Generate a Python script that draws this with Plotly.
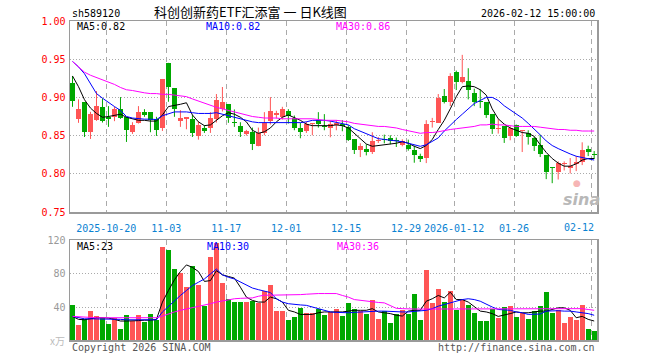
import plotly.graph_objects as go

# ---------------- data ----------------
day_idx = list(range(88))  # trading-day index, 2025-10-10 .. 2026-02-12

opens = [0.9193,0.8715,0.8939,0.8548,0.8702,0.8873,0.8737,0.8746,0.8846,0.8737,
         0.8548,0.8667,0.8807,0.8807,0.8719,0.8601,0.9452,0.9123,0.8693,0.8719,
         0.8715,0.8496,0.8605,0.8605,0.8719,0.8851,0.8912,0.8675,0.8627,0.8526,
         0.8544,0.8368,0.8535,0.8689,0.8772,0.8741,0.8820,0.8728,0.8601,0.8557,
         0.8649,0.8702,0.8627,0.8601,0.8645,0.8649,0.8614,0.8452,0.8311,0.8325,
         0.8281,0.8425,0.8447,0.8474,0.8443,0.8382,0.8382,0.8311,0.8232,0.8206,
         0.8675,0.8671,0.9018,0.8943,0.9338,0.9197,0.9215,0.9057,0.8947,0.8939,
         0.8781,0.8583,0.8623,0.8500,0.8645,0.8557,0.8539,0.8469,0.8373,0.8241,
         0.8088,0.8018,0.8127,0.8079,0.8123,0.8149,0.8320,0.8254]
highs = [0.9281,0.8974,0.8940,0.8811,0.9083,0.8987,0.8886,0.8877,0.9004,0.8737,
         0.8675,0.8886,0.8846,0.8807,0.8746,0.9241,0.9452,0.9123,0.8833,0.8737,
         0.8768,0.8684,0.8636,0.8807,0.9044,0.9136,0.8912,0.8842,0.8675,0.8575,
         0.8605,0.8605,0.8807,0.9004,0.8825,0.8877,0.8846,0.8763,0.8667,0.8684,
         0.8658,0.8807,0.8781,0.8693,0.8702,0.8702,0.8636,0.8452,0.8399,0.8386,
         0.8544,0.8482,0.8513,0.8504,0.8474,0.8452,0.8447,0.8368,0.8263,0.8702,
         0.8732,0.9044,0.9110,0.9316,0.9351,0.9557,0.9382,0.9114,0.9105,0.8939,
         0.8781,0.8715,0.8623,0.8623,0.8645,0.8570,0.8570,0.8482,0.8513,0.8241,
         0.8088,0.8162,0.8162,0.8206,0.8232,0.8412,0.8368,0.8298]
lows = [0.8877,0.8667,0.8482,0.8456,0.8693,0.8671,0.8614,0.8689,0.8719,0.8417,
        0.8522,0.8658,0.8746,0.8544,0.8496,0.8561,0.8943,0.8746,0.8614,0.8583,
        0.8482,0.8447,0.8535,0.8535,0.8671,0.8816,0.8667,0.8614,0.8482,0.8500,
        0.8311,0.8360,0.8504,0.8645,0.8724,0.8711,0.8658,0.8570,0.8465,0.8535,
        0.8504,0.8605,0.8570,0.8478,0.8570,0.8557,0.8430,0.8259,0.8219,0.8241,
        0.8259,0.8404,0.8399,0.8386,0.8351,0.8360,0.8303,0.8145,0.8154,0.8140,
        0.8605,0.8671,0.8921,0.8886,0.9096,0.9184,0.8974,0.8886,0.8860,0.8732,
        0.8522,0.8526,0.8404,0.8439,0.8482,0.8285,0.8382,0.8298,0.8219,0.7930,
        0.7877,0.7925,0.8044,0.8004,0.8035,0.8114,0.8232,0.8193]
closes = [0.8956,0.8846,0.8548,0.8781,0.8886,0.8689,0.8719,0.8846,0.8732,0.8575,
          0.8636,0.8807,0.8772,0.8702,0.8575,0.9241,0.9140,0.8851,0.8728,0.8737,
          0.8535,0.8636,0.8557,0.8728,0.8965,0.8939,0.8728,0.8667,0.8548,0.8557,
          0.8390,0.8535,0.8667,0.8820,0.8794,0.8846,0.8763,0.8605,0.8548,0.8658,
          0.8658,0.8649,0.8614,0.8649,0.8654,0.8627,0.8447,0.8307,0.8368,0.8281,
          0.8425,0.8447,0.8439,0.8434,0.8434,0.8425,0.8325,0.8246,0.8197,0.8658,
          0.8689,0.8991,0.8939,0.9281,0.9206,0.9272,0.9096,0.8943,0.8934,0.8772,
          0.8588,0.8601,0.8469,0.8601,0.8500,0.8566,0.8482,0.8364,0.8254,0.8022,
          0.8079,0.8145,0.8140,0.8105,0.8149,0.8307,0.8285,0.8246]

ma5 = [0.928,0.914,0.897,0.886,0.879,0.874,0.875,0.877,0.878,0.874,
       0.872,0.870,0.870,0.869,0.869,0.877,0.888,0.889,0.891,0.893,
       0.877,0.868,0.863,0.864,0.870,0.876,0.880,0.878,0.874,0.868,
       0.857,0.853,0.855,0.860,0.868,0.874,0.877,0.874,0.870,0.865,
       0.863,0.863,0.863,0.863,0.864,0.863,0.860,0.853,0.846,0.839,
       0.836,0.837,0.838,0.839,0.840,0.842,0.840,0.836,0.833,0.837,
       0.845,0.858,0.870,0.885,0.901,0.914,0.915,0.914,0.910,0.903,
       0.885,0.872,0.865,0.860,0.857,0.854,0.853,0.849,0.838,0.828,
       0.820,0.814,0.810,0.810,0.813,0.818,0.820,0.820]
ma10 = [0.947,0.940,0.931,0.917,0.905,0.899,0.893,0.888,0.883,0.875,
        0.873,0.872,0.8715,0.8715,0.871,0.876,0.879,0.881,0.881,0.881,
        0.880,0.879,0.879,0.879,0.880,0.878,0.875,0.873,0.871,0.869,
        0.868,0.867,0.867,0.867,0.867,0.867,0.867,0.867,0.867,0.868,
        0.870,0.870,0.870,0.869,0.867,0.866,0.864,0.859,0.856,0.853,
        0.850,0.846,0.845,0.844,0.843,0.842,0.840,0.838,0.836,0.838,
        0.842,0.847,0.856,0.864,0.871,0.878,0.885,0.892,0.896,0.900,
        0.900,0.896,0.889,0.884,0.878,0.873,0.866,0.859,0.851,0.843,
        0.837,0.833,0.829,0.826,0.823,0.821,0.819,0.818]
ma30 = [0.947,0.940,0.933,0.929,0.926,0.923,0.921,0.917,0.913,0.910,
        0.909,0.907,0.906,0.905,0.905,0.904,0.904,0.903,0.902,0.901,
        0.898,0.895,0.892,0.890,0.887,0.885,0.883,0.881,0.879,0.877,
        0.875,0.874,0.873,0.873,0.873,0.872,0.872,0.872,0.872,0.872,
        0.872,0.871,0.870,0.870,0.870,0.869,0.868,0.866,0.865,0.864,
        0.863,0.862,0.862,0.861,0.860,0.858,0.856,0.854,0.853,0.854,
        0.854,0.855,0.857,0.858,0.859,0.860,0.861,0.862,0.864,0.864,
        0.865,0.864,0.864,0.863,0.862,0.862,0.862,0.862,0.861,0.860,
        0.859,0.858,0.858,0.857,0.857,0.856,0.856,0.856]

volume = [42,17.6,25.7,35,28.6,27,18.8,27,13.9,29.8,
          22.9,29.8,21.6,31,23.7,113,109,86.5,80.8,64,
          90,66.5,41.6,101,118,68.5,49.4,46,46,46,
          47,45,59,66.5,35,35,24,27.7,38.8,32.6,
          32.6,37.5,29.8,33.9,37,29,45,37,34.7,31.4,
          48,24.9,35,20.4,31.8,36,31.8,56,24.5,85,
          44.5,62,46,59.6,36.3,48,43,32.6,22.9,22.9,
          37,26.5,39.6,40.8,27.7,32.6,24.9,35,40.8,58,
          32.2,36.7,21.2,27.3,23.7,42,13.9,11.4]
vma5 = [28.6,25,24.5,26,27,27,26.5,25,23,23,
        23,23.5,24,24,25,46,60,73,83,91,
        88,83,71,72,84,79,77,75,64,52,
        48,46,46,52,50,46,36,34,31,31,
        31,33,34,34,34,34,35,36,36,36,
        38,34,33,32,30,29,35,36,36,47,
        50,54,51,58,49,49,46,41,35,34,
        32,28.6,30,32,34,33,33,34,35,35,
        37,39,39,36,27,28.6,25,23]
vma10 = [28.6,27,25.7,25.7,25.7,25.7,25.7,25.5,25,24.5,
         24.5,24.5,24.5,24.5,24.5,34,41,48,54,60,
         66,70,74,80,86,79,76,74,70,66,
         63,61,59,57.5,50,46,44,43,42.5,42,
         40,38,36,34,33.5,33,33,33.5,34,34.5,
         35,35,35,34.5,34,34,34,34.7,35,36,
         38,41,43,45,47,49,50,49,47,43,
         40,37,36.5,36,34,33,31,31,31.5,35,
         35.5,35.5,35,35,34,33,32,30]
vma30 = [28.6,28,27.5,27,27,27,27,27,27,27,
         27,27,27,27,27,29,31.8,34,36,37.5,
         39,40.8,42.5,44,46,47.5,49,50,50.5,51,
         51,53,54.3,54.3,54.3,54.3,54.3,54.5,55,55.5,
         56.3,56.3,56.3,56.3,56.3,54,52,49,48,47,
         46,45.5,45,42,38.4,38,37.5,37.5,37.5,37.5,
         37.5,37.7,38,38,38,38,38,38,38,38,
         38,38,38,38,38,38,38,38,38,38,
         38,38,38,38,38,38,37,36]

date_tick_idx = [6, 16, 26, 36, 46, 56, 64, 74, 87]
date_tick_text = ["2025-10-20", "11-03", "11-17", "12-01", "12-15",
                  "12-29", "2026-01-12", "01-26", "02-12"]
price_ticks = [0.75, 0.80, 0.85, 0.90, 0.95, 1.00]
vol_ticks = [40, 80, 120]

# ---------------- styling ----------------
RED = "#ff5555"
GREEN = "#00a800"
MONO = "DejaVu Sans Mono"
CJK = "Noto Sans CJK SC"
W, H = 660, 360
L, R, T, B = 70, 63, 21, 20
PW, PH = W - L - R, H - T - B
BORDER = "#9a9a9a"
GRID = "#aaaaaa"

def px_x(p):
    return (p - L) / PW

def px_y(p):
    return (H - B - p) / PH

up = [c >= o for o, c in zip(opens, closes)]
cols = [RED if u else GREEN for u in up]
body_base = [min(o, c) for o, c in zip(opens, closes)]
body_h = [max(abs(c - o), 0.0014) for o, c in zip(opens, closes)]

fig = go.Figure()

# wicks
for flag, col in [(True, RED), (False, GREEN)]:
    wx, wy = [], []
    for i in day_idx:
        if up[i] == flag:
            wx += [i, i, None]
            wy += [lows[i], highs[i], None]
    fig.add_trace(go.Scatter(x=wx, y=wy, mode="lines", line=dict(color=col, width=1),
                             hoverinfo="skip", xaxis="x", yaxis="y"))

# bodies
fig.add_trace(go.Bar(x=day_idx, y=body_h, base=body_base, marker=dict(color=cols, line=dict(width=0)),
                     width=0.83, xaxis="x", yaxis="y"))

for vals, col in [(ma5, "#000000"), (ma10, "#0000ff"), (ma30, "#ff00ff")]:
    fig.add_trace(go.Scatter(x=day_idx, y=vals, mode="lines", line=dict(color=col, width=1),
                             xaxis="x", yaxis="y"))

# volume
fig.add_trace(go.Bar(x=day_idx, y=volume, marker=dict(color=cols, line=dict(width=0)),
                     width=0.83, xaxis="x2", yaxis="y2"))
for vals, col in [(vma5, "#000000"), (vma10, "#0000ff"), (vma30, "#ff00ff")]:
    fig.add_trace(go.Scatter(x=day_idx, y=vals, mode="lines", line=dict(color=col, width=1),
                             xaxis="x2", yaxis="y2"))

grid_pos = [k - 0.37 for k in date_tick_idx]
xr = [-0.417, 87.47]
main_dom = [px_y(212), 1.0]
vol_dom = [0.0, px_y(240)]

common_x = dict(range=xr, showgrid=True, gridcolor=GRID, griddash="5px,4px", gridwidth=1,
                showline=True, mirror=True, linecolor=BORDER, linewidth=1.5, zeroline=False,
                ticks="", tickvals=grid_pos, fixedrange=True)
fig.update_layout(
    width=W, height=H, margin=dict(l=L, r=R, t=T, b=B),
    paper_bgcolor="white", plot_bgcolor="white", showlegend=False, bargap=0,
    xaxis=dict(domain=[0, 1], anchor="y",
               ticktext=date_tick_text[:-1] + [""],
               tickfont=dict(family=MONO, size=10, color="#0a82d2"),
               ticklabelstandoff=6, **common_x),
    xaxis2=dict(domain=[0, 1], anchor="y2", matches="x", showticklabels=False, **common_x),
    yaxis=dict(domain=main_dom, range=[0.75, 1.0], tickvals=price_ticks,
               ticktext=["%.2f" % v for v in price_ticks],
               tickfont=dict(family=MONO, size=10, color="#ff0000"),
               showgrid=True, gridcolor=GRID, griddash="1px,2px", gridwidth=1,
               showline=True, mirror=True, linecolor=BORDER, linewidth=1.5,
               zeroline=False, ticks="", ticklabelstandoff=1, fixedrange=True),
    yaxis2=dict(domain=vol_dom, range=[0, 121.2], tickvals=vol_ticks,
                tickfont=dict(family=MONO, size=10, color="#999999"),
                showgrid=True, gridcolor=GRID, griddash="1px,2px", gridwidth=1,
                showline=True, mirror=True, linecolor=BORDER, linewidth=1.5,
                zeroline=False, ticks="", ticklabelstandoff=1, fixedrange=True),
)

ann = []
def add_text(text, x, y, color="#000", size=10, family=MONO, xanchor="left", **kw):
    ann.append(dict(text=text, x=px_x(x), y=px_y(y), xref="paper", yref="paper",
                    xanchor=xanchor, yanchor="middle", showarrow=False,
                    font=dict(family=family, size=size, color=color), **kw))

add_text("sh589120", 70, 13)
add_text("科创创新药ETF汇添富 一 日K线图", 250.7, 12, size=13, family=CJK, xanchor="center")
add_text("2026-02-12 15:00:00", 597, 13, xanchor="right")
add_text("MA5:0.82", 75, 27)
add_text("MA10:0.82", 204, 27, color="#0000ff")
add_text("MA30:0.86", 334, 27, color="#ff00ff")
add_text("MA5:23", 75, 246.5)
add_text("MA10:30", 205, 246.5, color="#0000ff")
add_text("MA30:36", 335, 246.5, color="#ff00ff")
add_text(date_tick_text[-1], 596, 227.5, color="#0a82d2", xanchor="right")
add_text("x万", 57, 341, color="#bbbbbb", size=10, family=CJK, xanchor="center")
add_text("Copyright 2026 SINA.COM", 70, 347, color="#555555")
add_text("http://finance.sina.com.cn", 597, 347, color="#555555", xanchor="right")
add_text("<b><i>sina</i></b>", 581, 199, color="#b8b8b8", size=16, family="DejaVu Sans", xanchor="center")
add_text("●", 577, 183, color="#f6b5b5", size=9, family="DejaVu Sans", xanchor="center")
fig.update_layout(annotations=ann)

fig.write_html("out.html", config={"displayModeBar": False, "staticPlot": True},
               post_script="document.body.style.margin='0';document.body.style.overflow='hidden';")
